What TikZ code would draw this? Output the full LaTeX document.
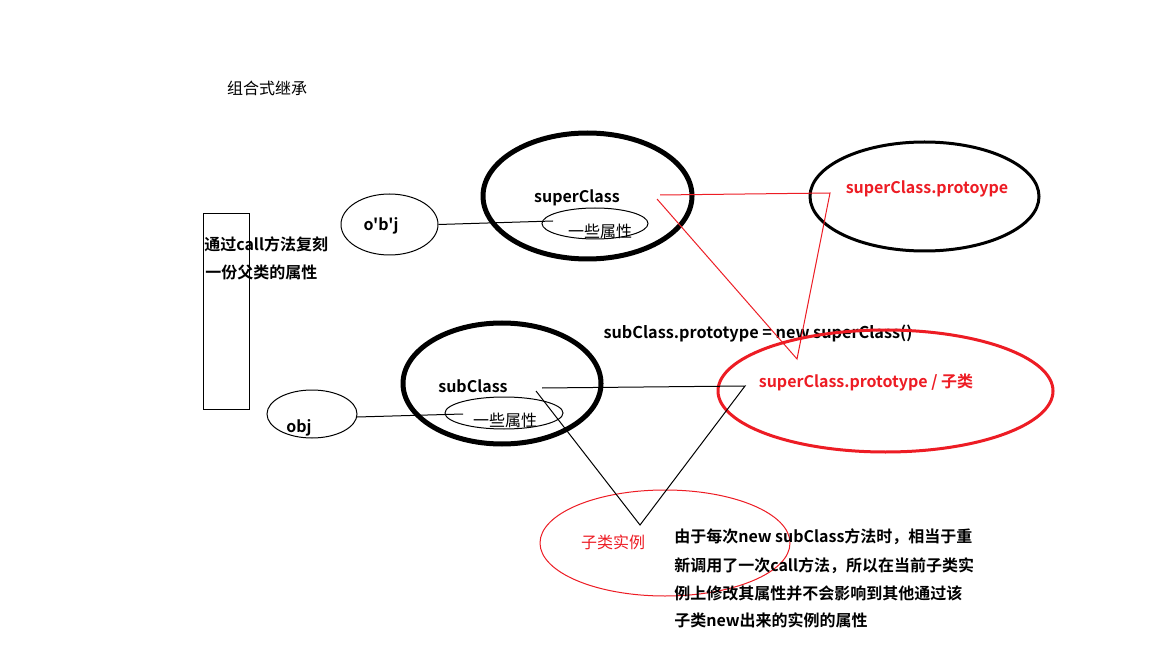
\documentclass[tikz,border=0pt]{standalone}
\usepackage{fontspec}
\setmainfont{Noto Sans CJK SC}[BoldFont={Noto Sans CJK SC Bold}]
\newfontfamily\plainquote{Noto Sans CJK SC}[BoldFont={Noto Sans CJK SC Bold}, Ligatures=TeXOff]
\usetikzlibrary{shapes.geometric}
\definecolor{paintred}{RGB}{237,28,36}
\tikzset{
  oval/.style={draw, ellipse, inner sep=0pt, minimum width=#1},
  txt/.style={inner sep=0pt, font=\fontsize{12}{14}\selectfont},
  btxt/.style={inner sep=0pt, font=\fontsize{12}{14}\selectfont\bfseries},
  rtxt/.style={btxt, text=paintred},
}
\begin{document}
\begin{tikzpicture}[x=0.75pt,y=-0.75pt]
\path[use as bounding box, fill=white] (0,0) rectangle (1152,648);

% title
\node[txt] (title) at (267,88) {组合式继承};

% left box
\node[draw, line width=0.75pt, inner sep=0pt, minimum width=34.5pt, minimum height=146.25pt] (box) at (226,311.5) {};
\node[btxt, anchor=west] (note1) at (204,244) {通过call方法复刻};
\node[btxt, anchor=west] (note2) at (205,272) {一份父类的属性};

% top: o'b'j
\node[oval=72.75pt, minimum height=45.75pt, line width=0.75pt] (objtop) at (389.5,224.5) {};
\node[btxt, font=\fontsize{12}{14}\plainquote\bfseries] (objtoptxt) at (381,226) {o'b'j};

% superClass
\node[oval=156.75pt, minimum height=94.5pt, line width=3.75pt] (super) at (587.5,196) {};
\node[btxt] (supertxt) at (577,198) {superClass};
\node[oval=79.5pt, minimum height=23.25pt, line width=0.75pt] (superprops) at (595,223.5) {};
\node[txt] (superpropstxt) at (600,231) {一些属性};

% superClass.protoype
\node[oval=171.75pt, minimum height=81.75pt, line width=2.25pt] (proto) at (924.5,196.5) {};
\node[rtxt] (prototxt) at (927,189) {superClass.protoype};

% middle text
\node[inner sep=0pt, font=\fontsize{12.2}{14}\selectfont\bfseries] (assign) at (758,334) {subClass.prototype = new superClass()};

% red ellipse
\node[oval=251.25pt, minimum height=91.5pt, line width=2.25pt, draw=paintred] (subproto) at (885.5,391) {};
\node[rtxt] (subprototxt) at (866,382) {superClass.prototype / 子类};

% subClass
\node[oval=148.5pt, minimum height=90.75pt, line width=3.75pt] (sub) at (502,383.5) {};
\node[btxt] (subtxt) at (473,386) {subClass};
\node[oval=88.5pt, minimum height=24pt, line width=0.75pt] (subprops) at (504,413) {};
\node[txt] (subpropstxt) at (505,420) {一些属性};

% obj
\node[oval=67.5pt, minimum height=36pt, line width=0.75pt] (objbot) at (312,414) {};
\node[btxt] (objbottxt) at (299,428) {obj};

% instance
\node[oval=187.5pt, minimum height=79.5pt, line width=0.75pt, draw=paintred] (inst) at (665,543) {};
\node[txt, text=paintred] (insttxt) at (613,542) {子类实例};

% explanation
\node[btxt, anchor=west] (exp1) at (674,537) {由于每次new subClass方法时，相当于重};
\node[btxt, anchor=west] (exp2) at (674,566) {新调用了一次call方法，所以在当前子类实};
\node[btxt, anchor=west] (exp3) at (674,593) {例上修改其属性并不会影响到其他通过该};
\node[btxt, anchor=west] (exp4) at (674,620) {子类new出来的实例的属性};

% connector coordinates
\coordinate (a1) at (553,221);
\coordinate (r1) at (660,195);
\coordinate (r2) at (830,193);
\coordinate (r3) at (797,359);
\coordinate (r4) at (657,199);
\coordinate (b0) at (357,417);
\coordinate (b1) at (463,414);
\coordinate (s1) at (542,388);
\coordinate (s2) at (745,386);
\coordinate (s3) at (640,525);
\coordinate (s4) at (536,391);

% connectors
\draw[line width=0.75pt] (objtop.east) -- (a1);
\draw[line width=0.75pt] (b0) -- (b1);
\draw[paintred, line width=0.75pt] (r1) -- (r2) -- (r3) -- (r4);
\draw[line width=0.75pt] (s1) -- (s2) -- (s3) -- (s4);
\end{tikzpicture}
\end{document}
